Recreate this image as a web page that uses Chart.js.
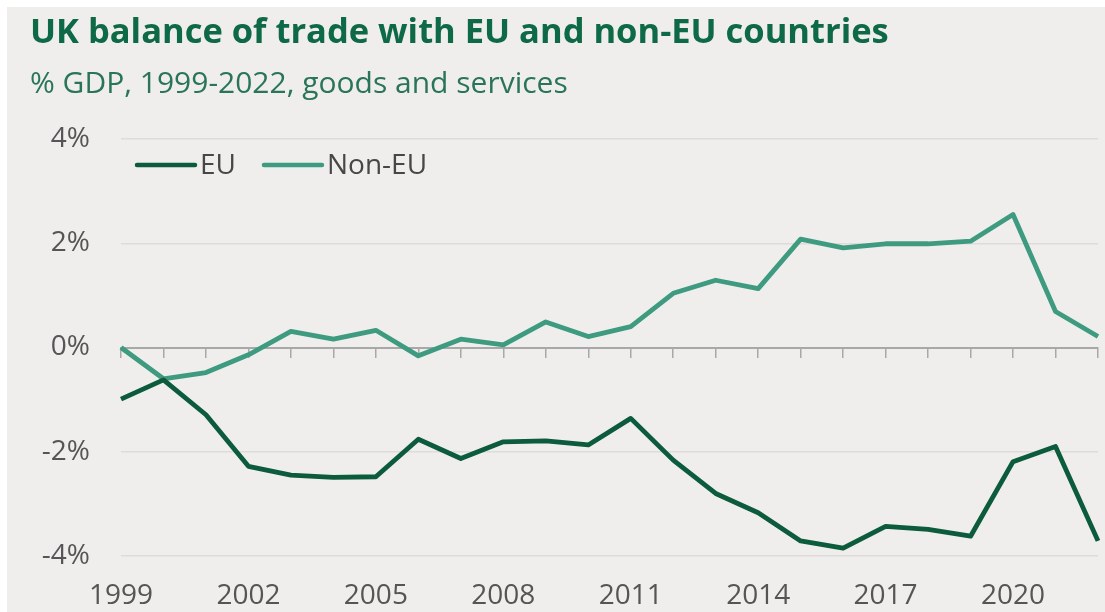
<!DOCTYPE html>
<html>
<head>
<meta charset="utf-8">
<title>UK balance of trade with EU and non-EU countries</title>
<script src="https://cdn.jsdelivr.net/npm/chart.js@4.4.1/dist/chart.umd.min.js"></script>
<style>
    html, body { margin: 0; padding: 0; background: #ffffff; }
    #panel {
        position: absolute;
        left: 7px;
        top: 7px;
        width: 1098px;
        height: 605px;
        background: #efeeec;
    }
    #tradeChart { display: block; }
</style>
</head>
<body>
<div id="panel">
    <canvas id="tradeChart" width="1098" height="605"></canvas>
</div>
<script>
// Balance of trade, % of GDP
const years = ['1999', '2000', '2001', '2002', '2003', '2004', '2005', '2006', '2007', '2008', '2009', '2010',
               '2011', '2012', '2013', '2014', '2015', '2016', '2017', '2018', '2019', '2020', '2021', '2022'];
const euBalance = [-0.99, -0.62, -1.29, -2.28, -2.45, -2.49, -2.48, -1.76, -2.13, -1.81, -1.79, -1.87,
                   -1.36, -2.16, -2.80, -3.17, -3.71, -3.85, -3.43, -3.49, -3.62, -2.19, -1.90, -3.71];
const nonEuBalance = [0, -0.60, -0.48, -0.14, 0.31, 0.16, 0.33, -0.16, 0.16, 0.05, 0.49, 0.21,
                      0.40, 1.04, 1.29, 1.13, 2.08, 1.91, 1.99, 1.99, 2.04, 2.55, 0.69, 0.21];
const yTicks = [-4, -2, 0, 2, 4];

const FONT = "'Open Sans', 'Noto Sans', sans-serif";
const EU_COLOR = '#0b5b3c';
const NON_EU_COLOR = '#3e9b80';

// Legend drawn inside the plot, top left
const insideLegend = {
    id: 'insideLegend',
    afterDatasetsDraw(chart) {
        const ctx = chart.ctx;
        const area = chart.chartArea;
        let x = area.left + 16;
        const y = area.top + 26;
        ctx.save();
        ctx.font = '28px ' + FONT;
        ctx.textBaseline = 'middle';
        ctx.textAlign = 'left';
        chart.data.datasets.forEach(ds => {
            ctx.strokeStyle = ds.borderColor;
            ctx.lineWidth = 4.5;
            ctx.lineCap = 'round';
            ctx.beginPath();
            ctx.moveTo(x, y);
            ctx.lineTo(x + 58, y);
            ctx.stroke();
            x += 63;
            ctx.fillStyle = '#474747';
            ctx.fillText(ds.label, x, y + 1);
            x += ctx.measureText(ds.label).width + 28;
        });
        ctx.restore();
    }
};

const ctx = document.getElementById('tradeChart').getContext('2d');
const tradeChart = new Chart(ctx, {
    type: 'line',
    data: {
        labels: years,
        datasets: [{
            label: 'EU',
            data: euBalance,
            borderColor: EU_COLOR,
            borderWidth: 4.8,
            pointRadius: 0,
            tension: 0,
            borderJoinStyle: 'round',
            fill: false
        }, {
            label: 'Non-EU',
            data: nonEuBalance,
            borderColor: NON_EU_COLOR,
            borderWidth: 4.8,
            pointRadius: 0,
            tension: 0,
            borderJoinStyle: 'round',
            fill: false
        }]
    },
    options: {
        responsive: false,
        animation: false,
        layout: {
            padding: { left: 23, right: 7, top: 0, bottom: 0 }
        },
        plugins: {
            legend: { display: false },
            tooltip: { enabled: false },
            title: {
                display: true,
                text: 'UK balance of trade with EU and non-EU countries',
                align: 'start',
                color: '#0d6946',
                font: { family: FONT, size: 34.5, weight: 'bold', lineHeight: 1.2 },
                padding: { top: 5, bottom: 0 }
            },
            subtitle: {
                display: true,
                text: '% GDP, 1999-2022, goods and services',
                align: 'start',
                color: '#2a7559',
                font: { family: FONT, size: 30, lineHeight: 1.2 },
                padding: { top: 12.6, bottom: 37 }
            }
        },
        scales: {
            x: {
                type: 'category',
                position: 'bottom',
                grid: { display: false },
                border: { display: false },
                ticks: {
                    autoSkip: false,
                    maxRotation: 0,
                    padding: 15,
                    color: '#555555',
                    font: { family: FONT, size: 28 },
                    callback: (value, index) => index % 3 === 0 ? years[index] : ''
                },
                afterFit(scale) {
                    scale.height = 56;
                    scale.paddingRight = 0;
                }
            },
            // zero line with yearly tick marks
            xZero: {
                type: 'category',
                position: { y: 0 },
                grid: {
                    drawOnChartArea: false,
                    drawTicks: true,
                    tickLength: 9,
                    color: '#a8a8a8',
                    lineWidth: 1.5
                },
                border: { display: true, color: '#a8a8a8', width: 2 },
                ticks: { display: false, autoSkip: false }
            },
            y: {
                min: -4,
                max: 4,
                afterBuildTicks(scale) {
                    scale.ticks = yTicks.map(v => ({ value: v }));
                },
                grid: {
                    color: '#dddcda',
                    lineWidth: 1.5,
                    drawTicks: false
                },
                border: { display: false },
                ticks: {
                    padding: 31,
                    color: '#555555',
                    font: { family: FONT, size: 28 },
                    callback: value => value + '%'
                },
                afterFit(scale) { scale.width = 91; }
            }
        }
    },
    plugins: [insideLegend]
});
</script>
</body>
</html>
